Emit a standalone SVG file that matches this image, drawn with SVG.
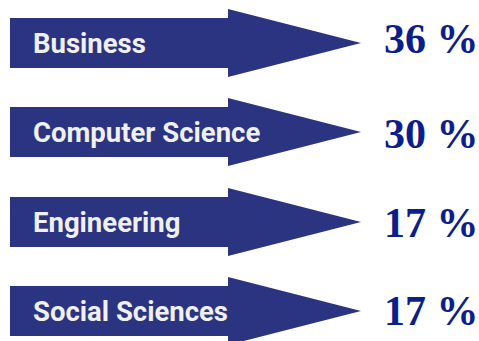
<svg xmlns="http://www.w3.org/2000/svg" width="479" height="341" viewBox="0 0 479 341">
<style>
.arrow{fill:#2a3480}
.lbl{font-family:Roboto,"Liberation Sans",sans-serif;font-weight:bold;font-size:27.5px;fill:#f0f0f0}
.pct{font-family:"Liberation Serif","Times New Roman",serif;font-weight:bold;font-size:42px;fill:#0c1e8c}
</style>
<rect width="479" height="341" fill="#ffffff"/>
<defs>
<polygon id="arr" points="10,-25 228,-25 228,-34 361,0 228,34 228,25 10,25"/>
</defs>
<g id="business" transform="translate(0,43)">
<use href="#arr" class="arrow"/>
<text class="lbl" x="33" y="10">Business</text>
<text class="pct" x="384" y="9.5">36 %</text>
</g>
<g id="computer-science" transform="translate(0,132)">
<use href="#arr" class="arrow"/>
<text class="lbl" x="33" y="10">Computer Science</text>
<text class="pct" x="384" y="16">30 %</text>
</g>
<g id="engineering" transform="translate(0,222)">
<use href="#arr" class="arrow"/>
<text class="lbl" x="33" y="10">Engineering</text>
<text class="pct" x="384" y="15">17 %</text>
</g>
<g id="social-sciences" transform="translate(0,311)">
<use href="#arr" class="arrow"/>
<text class="lbl" x="33" y="10">Social Sciences</text>
<text class="pct" x="384" y="14">17 %</text>
</g>
<g id="connectors"></g>
</svg>
